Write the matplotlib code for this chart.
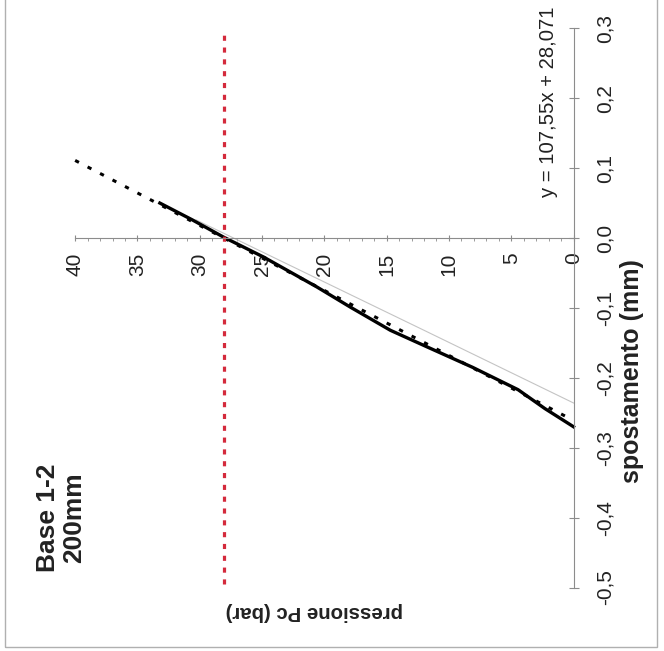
import matplotlib
matplotlib.use("Agg")
import matplotlib.pyplot as plt
from matplotlib.ticker import FixedLocator, FixedFormatter
from matplotlib.patches import Rectangle

plt.rcParams['font.family'] = ['Liberation Sans', 'DejaVu Sans']

# chart is shown rotated: pressure runs right-to-left, displacement bottom-to-top
# measured curve (spostamento mm, pressione bar)
meas_s = [0.050, 0.026, 0.0014, -0.027, -0.070, -0.099, -0.132, -0.157, -0.185, -0.217, -0.244, -0.270]
meas_p = [33.2, 30.6, 28.1, 24.9, 20.6, 17.9, 14.7, 11.6, 8.1, 4.45, 2.3, 0.0]

# thin grey series
grey_s = [0.026, -0.132, -0.236]
grey_p = [30.3, 12.0, 0.0]

# linear trendline y = 107,55x + 28,071 (end points)
trend_s = [0.111, -0.261]
trend_p = [40.0, 0.0]

# red reference line at Pc
red_p = 28.05
red_s = [-0.495, 0.29]

p_ticks = [0, 5, 10, 15, 20, 25, 30, 35, 40]
p_tick_labels = ['0', '5', '10', '15', '20', '25', '30', '35', '40']
p_minor = list(range(0, 41))
s_ticks = [-0.5, -0.4, -0.3, -0.2, -0.1, 0.0, 0.1, 0.2, 0.3]
s_tick_labels = ['-0,5', '-0,4', '-0,3', '-0,2', '-0,1', '0,0', '0,1', '0,2', '0,3']

W, H = 664, 651
fig = plt.figure(figsize=(W / 100, H / 100), dpi=100)
ax = fig.add_axes([0, 0, 1, 1])
ax.set_xlim(46.03, -7.26)
ax.set_ylim(-0.5908, 0.3405)

axis_col = '#8c8c8c'
ax.spines['left'].set_visible(False)
ax.spines['top'].set_visible(False)
ax.spines['bottom'].set_position(('data', 0))
ax.spines['bottom'].set_bounds(0, 40)
ax.spines['right'].set_position(('data', 0))
ax.spines['right'].set_bounds(-0.5, 0.3)
for k in ['bottom', 'right']:
    ax.spines[k].set_color(axis_col)
    ax.spines[k].set_linewidth(0.8)

ax.xaxis.set_major_locator(FixedLocator(p_ticks))
ax.xaxis.set_major_formatter(FixedFormatter(p_tick_labels))
ax.xaxis.set_minor_locator(FixedLocator(p_minor))
ax.tick_params(axis='x', which='major', direction='inout', length=5, width=0.8,
               color=axis_col, labelsize=15, labelcolor='#222222', labelrotation=90, pad=8)
ax.tick_params(axis='x', which='minor', direction='out', length=2.5, width=0.6, color=axis_col)

ax.yaxis.tick_right()
ax.yaxis.set_major_locator(FixedLocator(s_ticks))
ax.yaxis.set_major_formatter(FixedFormatter(s_tick_labels))
ax.tick_params(axis='y', which='major', direction='inout', length=6.5, width=0.8,
               color=axis_col, labelsize=15, labelcolor='#222222', labelrotation=90, pad=13)
for lab in ax.get_yticklabels():
    lab.set_va('center')

ax.plot(grey_p, grey_s, color='#c4c4c4', lw=0.8)
ax.plot(trend_p, trend_s, color='black', lw=2.2, linestyle=(0, (1.4, 3.2)))
ax.plot(meas_p, meas_s, color='black', lw=2.4)
ax.plot([red_p, red_p], red_s, color='#d42a3c', lw=2.3, linestyle=(0, (1.6, 2.1)))

def px(x, y):
    return x / W, 1 - y / H

fig.text(*px(549, 102), 'y = 107,55x + 28,071', rotation=90, ha='center', va='center',
         fontsize=14.6, color='#222222')
fig.text(*px(632, 371), 'spostamento (mm)', rotation=90, ha='center', va='center',
         fontsize=18, fontweight='bold', color='#222222')
fig.text(*px(314, 611), 'pressione Pc (bar)', rotation=180, ha='center', va='center',
         fontsize=14.7, fontweight='bold', color='#222222')
fig.text(*px(61, 518), 'Base 1-2\n200mm', rotation=90, ha='center', va='center',
         multialignment='center', fontsize=19, fontweight='bold', color='#222222',
         linespacing=1.15)

fig.patches.append(Rectangle((5 / W, 1 - 647 / H), 652 / W, 660 / H, transform=fig.transFigure,
                             fill=False, edgecolor='#b0b0b0', lw=1.0))

fig.savefig('out.png', dpi=100, facecolor='white')
